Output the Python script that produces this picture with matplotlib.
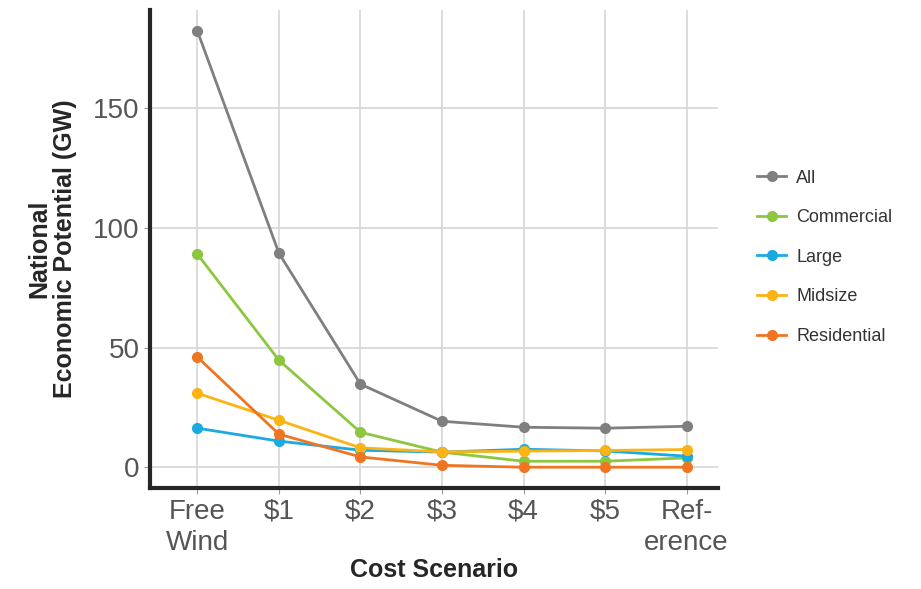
import numpy as np
import matplotlib.pyplot as plt

plt.rcParams['font.family'] = ['Liberation Sans', 'DejaVu Sans']

scenarios = ['Free\nWind', '$1', '$2', '$3', '$4', '$5', 'Ref-\nerence']
series = ['All', 'Commercial', 'Large', 'Midsize', 'Residential']
all_gw = [182.2, 89.4, 34.7, 19.2, 16.7, 16.3, 17.1]
commercial = [89.0, 44.7, 14.6, 6.3, 2.5, 2.5, 3.9]
large = [16.3, 10.9, 7.1, 6.3, 7.5, 6.8, 4.6]
midsize = [30.9, 19.6, 8.1, 6.4, 6.7, 7.0, 7.4]
residential = [46.0, 13.8, 4.3, 0.8, 0.0, 0.0, 0.0]
colors = ['#7f7f7f', '#8dc63f', '#1ba9e1', '#fbb316', '#ee7623']

fig = plt.figure(figsize=(9.21, 5.89), dpi=100)
ax = fig.add_axes([0.163, 0.171, 0.617, 0.812])

x = np.arange(len(scenarios))
for name, vals, c in zip(series, [all_gw, commercial, large, midsize, residential], colors):
    ax.plot(x, vals, color=c, lw=2, marker='o', ms=7, label=name)

ax.set_xlim(-0.58, 6.39)
ax.set_ylim(-8.8, 191)
ax.set_xticks(x)
ax.set_xticklabels(scenarios, linespacing=1.25)
ax.set_yticks([0, 50, 100, 150])
ax.grid(True, color='#d9d9d9', lw=1.3)
ax.set_axisbelow(True)
for s in ['top', 'right']:
    ax.spines[s].set_visible(False)
for s in ['left', 'bottom']:
    ax.spines[s].set_linewidth(3)
    ax.spines[s].set_color('#262626')
ax.tick_params(labelsize=20, labelcolor='#555555', color='#999999', length=4)
ax.set_xlabel('Cost Scenario', fontsize=18, fontweight='bold', color='#262626', labelpad=2)
ax.set_ylabel('National\nEconomic Potential (GW)', fontsize=18, fontweight='bold',
              color='#262626', linespacing=1.05, labelpad=12)

leg = ax.legend(loc='center left', bbox_to_anchor=(1.04, 0.483), frameon=False,
                fontsize=13, labelspacing=1.25, handlelength=1.6, handletextpad=0.55,
                labelcolor='#333333')

fig.savefig('out.png', dpi=100)
